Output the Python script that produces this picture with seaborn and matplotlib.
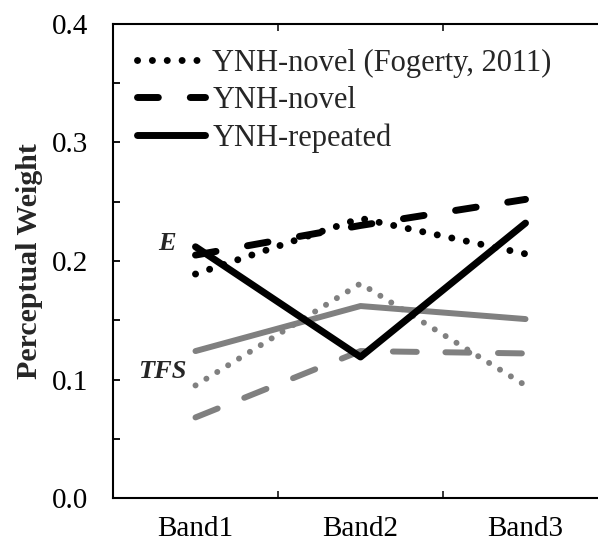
import matplotlib
matplotlib.use("Agg")
import matplotlib.pyplot as plt
import seaborn as sns
import pandas as pd
from matplotlib.ticker import MultipleLocator, FixedLocator

bands = ["Band1", "Band2", "Band3"]

# envelope (E) weights
e_fogerty = [0.189, 0.236, 0.206]
e_novel = [0.205, 0.230, 0.252]
e_repeated = [0.212, 0.119, 0.232]

# temporal fine structure (TFS) weights
tfs_fogerty = [0.095, 0.181, 0.095]
tfs_novel = [0.068, 0.124, 0.122]
tfs_repeated = [0.124, 0.162, 0.151]

legend_labels = ["YNH-novel (Fogerty, 2011)", "YNH-novel", "YNH-repeated"]

sns.set_style("ticks")
plt.rcParams["font.family"] = ["Liberation Serif", "DejaVu Serif"]

fig = plt.figure(figsize=(5.98, 5.45), dpi=100)
ax = fig.add_axes([113 / 598, 47 / 545, 495 / 598, 474 / 545])

gray = "#808080"


def draw(vals, color, lw, dashes, label=None):
    df = pd.DataFrame({"band": bands, "w": vals})
    sns.lineplot(data=df, x="band", y="w", ax=ax, color=color, lw=lw,
                 label=label, legend=False, sort=False)
    ln = ax.lines[-1]
    if dashes is not None:
        ln.set_dashes(dashes)
    ln.set_dash_capstyle("round")
    ln.set_solid_capstyle("round")
    return ln


# gray TFS lines first
draw(tfs_repeated, gray, 4.3, None)
draw(tfs_fogerty, gray, 4.3, (0.01, 2.13))
draw(tfs_novel, gray, 4.3, (4.0, 4.8))

# black E lines
h1 = draw(e_fogerty, "black", 5, (0.01, 2.13), legend_labels[0])
h2 = draw(e_novel, "black", 5, (3.0, 4.6), legend_labels[1])
h3 = draw(e_repeated, "black", 5, None, legend_labels[2])

ax.set_xlim(-0.5, 2.5)
ax.set_ylim(0, 0.4)
ax.yaxis.set_major_locator(MultipleLocator(0.1))
ax.yaxis.set_minor_locator(MultipleLocator(0.05))
ax.set_yticklabels([f"{v:.1f}" for v in ax.get_yticks()])
ax.xaxis.set_minor_locator(FixedLocator([0.5, 1.5]))

for s in ["left", "bottom", "top", "right"]:
    ax.spines[s].set_linewidth(1.5)
    ax.spines[s].set_color("black")

ax.tick_params(axis="x", which="major", length=0, labelsize=21, pad=13,
               colors="black")
ax.tick_params(axis="x", which="minor", direction="in", length=5, width=1.3,
               top=True, bottom=True)
ax.tick_params(axis="y", which="both", direction="in", length=5, width=1.3,
               labelsize=21, pad=18, colors="black")

ax.set_xlabel("")
ax.set_ylabel("Perceptual Weight", fontsize=21.5, fontweight="bold", labelpad=6)

ax.text(-0.17, 0.215, "E", fontsize=19, fontweight="bold", style="italic",
        ha="center", va="center")
ax.text(-0.2, 0.107, "TFS", fontsize=19, fontweight="bold", style="italic",
        ha="center", va="center")

ax.legend(handles=[h1, h2, h3], labels=legend_labels, loc="upper left",
          frameon=False, fontsize=22, handlelength=2.2, handletextpad=0.25,
          labelspacing=0.27, borderaxespad=0.6, borderpad=0.2)

fig.savefig("out.png", dpi=100)
